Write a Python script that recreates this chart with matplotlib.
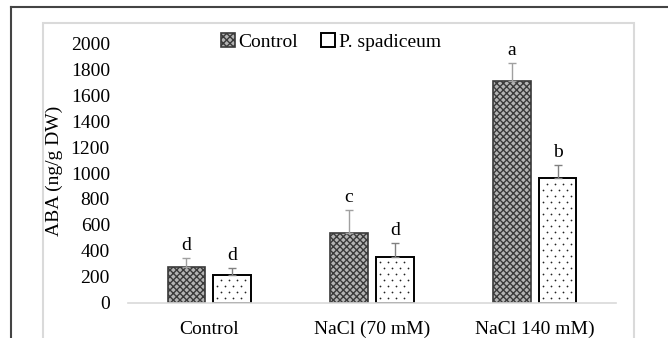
import numpy as np
import matplotlib.pyplot as plt
from matplotlib.patches import Rectangle
from matplotlib.lines import Line2D

# datos
grupos = ["Control", "NaCl (70 mM)", "NaCl 140 mM)"]
series = ["Control", "P. spadiceum"]
control_val = [278, 540, 1708]
control_err = [65, 175, 142]
spad_val = [214, 350, 960]
spad_err = [55, 108, 100]
control_letras = ["d", "c", "a"]
spad_letras = ["d", "d", "b"]
yticks = [0, 200, 400, 600, 800, 1000, 1200, 1400, 1600, 1800, 2000]

plt.rcParams['font.family'] = ['Liberation Serif', 'DejaVu Serif']
plt.rcParams['hatch.linewidth'] = 1.0

W, H = 668, 338
fig = plt.figure(figsize=(W / 100, H / 100), dpi=100)
ax = fig.add_axes([128 / W, (H - 302.7) / H, 488 / W, 259.4 / H])

x = np.arange(len(grupos))
ancho = 0.232
desp = 0.141
px_x = 3.0 / 488      # unidades x por pixel
px_y = 2000 / 259.4   # unidades y por pixel

b1 = ax.bar(x - desp, control_val, ancho, color='#b4b4b4', edgecolor='#3a3a3a',
            hatch='xxxxx', linewidth=1.2, label=series[0], zorder=2)
b2 = ax.bar(x + desp, spad_val, ancho, color='white', edgecolor='black',
            linewidth=1.4, label=series[1], zorder=2)

# textura de puntos de las barras P. spadiceum
for r in b2:
    x0 = r.get_x()
    x1 = x0 + r.get_width()
    alto = r.get_height()
    fila = 0
    yy = 5 * px_y
    while yy < alto - 3 * px_y:
        inicio = x0 + (4 if fila % 2 == 0 else 8) * px_x
        xs = np.arange(inicio, x1 - 3 * px_x, 8 * px_x)
        ax.scatter(xs, np.full(len(xs), yy), s=1.6, color='#222222', linewidths=0, zorder=2.5)
        yy += 6 * px_y
        fila += 1

ax.errorbar(x - desp, control_val, yerr=[np.zeros(3), control_err], fmt='none',
            ecolor='#a0a0a0', elinewidth=1, capsize=3, zorder=3)
ax.errorbar(x + desp, spad_val, yerr=[np.zeros(3), spad_err], fmt='none',
            ecolor='#808080', elinewidth=1, capsize=3, zorder=3)

for i in range(len(grupos)):
    ax.annotate(control_letras[i], (x[i] - desp, control_val[i] + control_err[i]),
                xytext=(0, 3), textcoords='offset points', ha='center', va='bottom', fontsize=14)
    ax.annotate(spad_letras[i], (x[i] + desp, spad_val[i] + spad_err[i]),
                xytext=(0, 3), textcoords='offset points', ha='center', va='bottom', fontsize=14)

ax.set_xlim(-0.5, 2.5)
ax.set_ylim(0, 2000)
ax.set_yticks(yticks)
ax.set_xticks(x)
ax.set_xticklabels(grupos)
ax.tick_params(axis='both', length=0, labelsize=14)
ax.tick_params(axis='y', pad=13)
ax.tick_params(axis='x', pad=13)
for s in ['top', 'right', 'left']:
    ax.spines[s].set_visible(False)
ax.spines['bottom'].set_color('#d9d9d9')
ax.spines['bottom'].set_linewidth(1.2)
ax.set_ylabel("ABA (ng/g DW)", fontsize=14)
ax.yaxis.set_label_coords(-0.133, 0.51)

fig.legend(handles=[b1, b2], loc='center', bbox_to_anchor=(331 / W, 1 - 42 / H),
           ncol=2, frameon=False, fontsize=14, handlelength=0.7, handleheight=0.7,
           handletextpad=0.2, columnspacing=1.2)

# marcos
fig.add_artist(Rectangle((43 / W, -0.05), (634 - 43) / W, 1 - 23 / H + 0.05,
                         transform=fig.transFigure, fill=False, edgecolor='#dadada', linewidth=1.5))
fig.add_artist(Line2D([11 / W, 1.0], [1 - 7 / H, 1 - 7 / H], transform=fig.transFigure,
                      color='#444444', linewidth=1.5))
fig.add_artist(Line2D([11 / W, 11 / W], [0, 1 - 7 / H], transform=fig.transFigure,
                      color='#444444', linewidth=1.5))

fig.savefig("out.png", dpi=100)
